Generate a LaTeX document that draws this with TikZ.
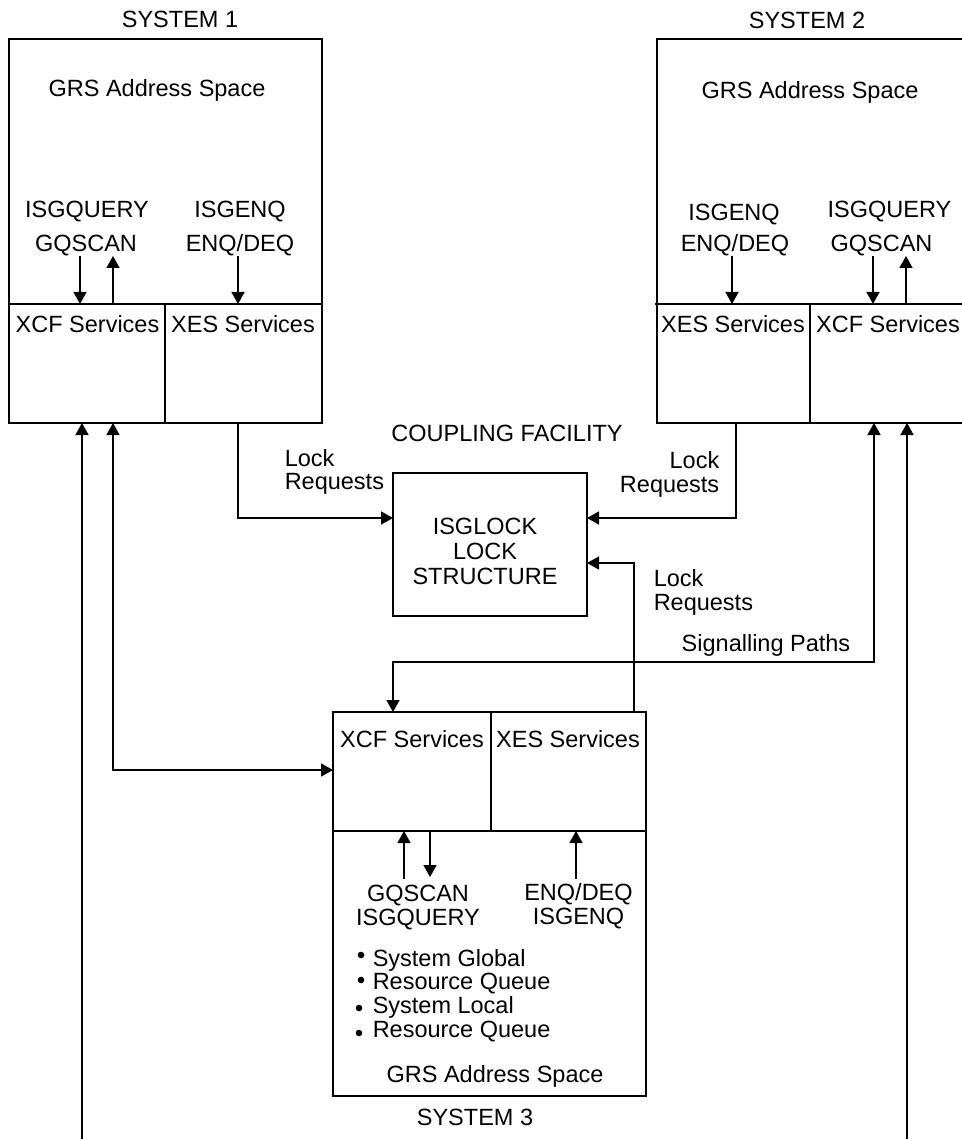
\documentclass[tikz,border=0pt]{standalone}
\usepackage{fontspec}
\setmainfont{Liberation Sans}
\usetikzlibrary{arrows.meta}
\begin{document}
\begin{tikzpicture}[x=1pt,y=-1pt,
  line width=1.5pt,
  lbl/.style={inner sep=0pt, anchor=base, font=\fontsize{23.5}{27}\selectfont},
  lblw/.style={lbl, anchor=base west},
  lble/.style={lbl, anchor=base east},
  pair/.style={inner sep=0pt, anchor=north, align=center, font=\fontsize{23.5}{24}\selectfont},
  box/.style={draw, line width=1.5pt, inner sep=0pt, outer sep=0pt, anchor=north west},
  tip/.tip={Triangle[length=12pt,width=13pt]},
  arr/.style={-tip},
  arrboth/.style={tip-tip},
]
\useasboundingbox (0,0) rectangle (961,1139);

% ---------- boxes ----------
\node[box, minimum width=313pt, minimum height=384pt] (sys1) at (9,39) {};
\node[box, minimum width=310pt, minimum height=384pt] (sys2) at (657,39) {};
\node[box, minimum width=194pt, minimum height=143pt] (cf) at (393,473) {};
\node[box, minimum width=313pt, minimum height=384pt] (sys3) at (333,712) {};

% service compartments
\draw (9,304) -- (322,304) (165,304) -- (165,423);
\draw (655,304) -- (967,304) (810,304) -- (810,423);
\draw (333,831) -- (646,831) (491,712) -- (491,831);

% ---------- labels: system 1 ----------
\node[lbl] (t1) at (180,28) {SYSTEM 1};
\node[lbl] (g1) at (157,97) {GRS Address Space};
\node[lbl] (q1a) at (87,218) {ISGQUERY};
\node[lbl] (q1b) at (86,252) {GQSCAN};
\node[lbl] (e1a) at (240,218) {ISGENQ};
\node[lbl] (e1b) at (240,252) {ENQ/DEQ};
\node[lbl] (xcf1) at (87.5,332) {XCF Services};
\node[lbl] (xes1) at (243,332) {XES Services};

% ---------- labels: system 2 ----------
\node[lbl] (t2) at (807,28.5) {SYSTEM 2};
\node[lbl] (g2) at (810,99) {GRS Address Space};
\node[lbl] (e2a) at (734,221) {ISGENQ};
\node[lbl] (e2b) at (735,252) {ENQ/DEQ};
\node[lbl] (q2a) at (889.5,218) {ISGQUERY};
\node[lbl] (q2b) at (881.5,252) {GQSCAN};
\node[lbl] (xes2) at (733,332) {XES Services};
\node[lbl] (xcf2) at (888,332) {XCF Services};

% ---------- labels: coupling facility ----------
\node[lbl] (tcf) at (507,441) {COUPLING FACILITY};
\node[lbl] (cf1) at (485,534) {ISGLOCK};
\node[lbl] (cf2) at (485,559) {LOCK};
\node[lbl] (cf3) at (485,584) {STRUCTURE};
\node[lblw] (lr1a) at (284,466) {Lock};
\node[lblw] (lr1b) at (284,489) {Requests};
\node[lble] (lr2a) at (720,468) {Lock};
\node[lble] (lr2b) at (720,492) {Requests};
\node[lblw] (lr3a) at (653,586) {Lock};
\node[lblw] (lr3b) at (653,610) {Requests};
\node[lbl] (sig) at (766,651) {Signalling Paths};

% ---------- labels: system 3 ----------
\node[lbl] (xcf3) at (412,747) {XCF Services};
\node[lbl] (xes3) at (568,747) {XES Services};
\node[pair] (q3) at (418,884) {GQSCAN\\ISGQUERY};
\node[pair] (e3) at (578.5,882.5) {ENQ/DEQ\\ISGENQ};
\node[lblw] (b1) at (372,966) {System Global};
\node[lblw] (b2) at (372,989) {Resource Queue};
\node[lblw] (b3) at (372,1013) {System Local};
\node[lblw] (b4) at (372,1037) {Resource Queue};
\fill (361,955) circle (3.3) (361,980) circle (3.3)
      (359,1008) circle (3.3) (359,1033) circle (3.3);
\node[lbl] (g3) at (495,1082) {GRS Address Space};
\node[lbl] (t3) at (475,1125) {SYSTEM 3};

% ---------- connector end points ----------
\coordinate (s1qd0) at (80,256);  \coordinate (s1qd1) at (80,304);
\coordinate (s1qu0) at (113,304); \coordinate (s1qu1) at (113,256);
\coordinate (s1e0) at (238,256);  \coordinate (s1e1) at (238,304);
\coordinate (s2e0) at (732,256);  \coordinate (s2e1) at (732,304);
\coordinate (s2qd0) at (873,256); \coordinate (s2qd1) at (873,304);
\coordinate (s2qu0) at (906,304); \coordinate (s2qu1) at (906,256);
\coordinate (s3qu0) at (404,879); \coordinate (s3qu1) at (404,831);
\coordinate (s3qd0) at (430,831); \coordinate (s3qd1) at (430,877);
\coordinate (s3e0) at (576,879);  \coordinate (s3e1) at (576,831);

\coordinate (lk1a) at (238,423); \coordinate (lk1b) at (238,518); \coordinate (lk1c) at (393,518);
\coordinate (lk2a) at (736,423); \coordinate (lk2b) at (736,518); \coordinate (lk2c) at (587,518);
\coordinate (lk3a) at (634,712); \coordinate (lk3b) at (634,563); \coordinate (lk3c) at (587,563);

\coordinate (sp0) at (393,712); \coordinate (sp1) at (393,662);
\coordinate (sp2) at (874,662); \coordinate (sp3) at (874,423);
\coordinate (lp0) at (113,423); \coordinate (lp1) at (113,770); \coordinate (lp2) at (333,770);
\coordinate (ll0) at (82,1139);  \coordinate (ll1) at (82,423);
\coordinate (lr0) at (907,1139); \coordinate (lr1) at (907,423);

% ---------- connectors ----------
\draw[arr] (s1qd0) -- (s1qd1);
\draw[arr] (s1qu0) -- (s1qu1);
\draw[arr] (s1e0) -- (s1e1);
\draw[arr] (s2e0) -- (s2e1);
\draw[arr] (s2qd0) -- (s2qd1);
\draw[arr] (s2qu0) -- (s2qu1);
\draw[arr] (s3qu0) -- (s3qu1);
\draw[arr] (s3qd0) -- (s3qd1);
\draw[arr] (s3e0) -- (s3e1);

\draw[arr] (lk1a) -- (lk1b) -- (lk1c);
\draw[arr] (lk2a) -- (lk2b) -- (lk2c);
\draw[arr] (lk3a) -- (lk3b) -- (lk3c);

\draw[arrboth] (sp0) -- (sp1) -- (sp2) -- (sp3);
\draw[arrboth] (lp0) -- (lp1) -- (lp2);
\draw[arr] (ll0) -- (ll1);
\draw[arr] (lr0) -- (lr1);
\end{tikzpicture}
\end{document}
